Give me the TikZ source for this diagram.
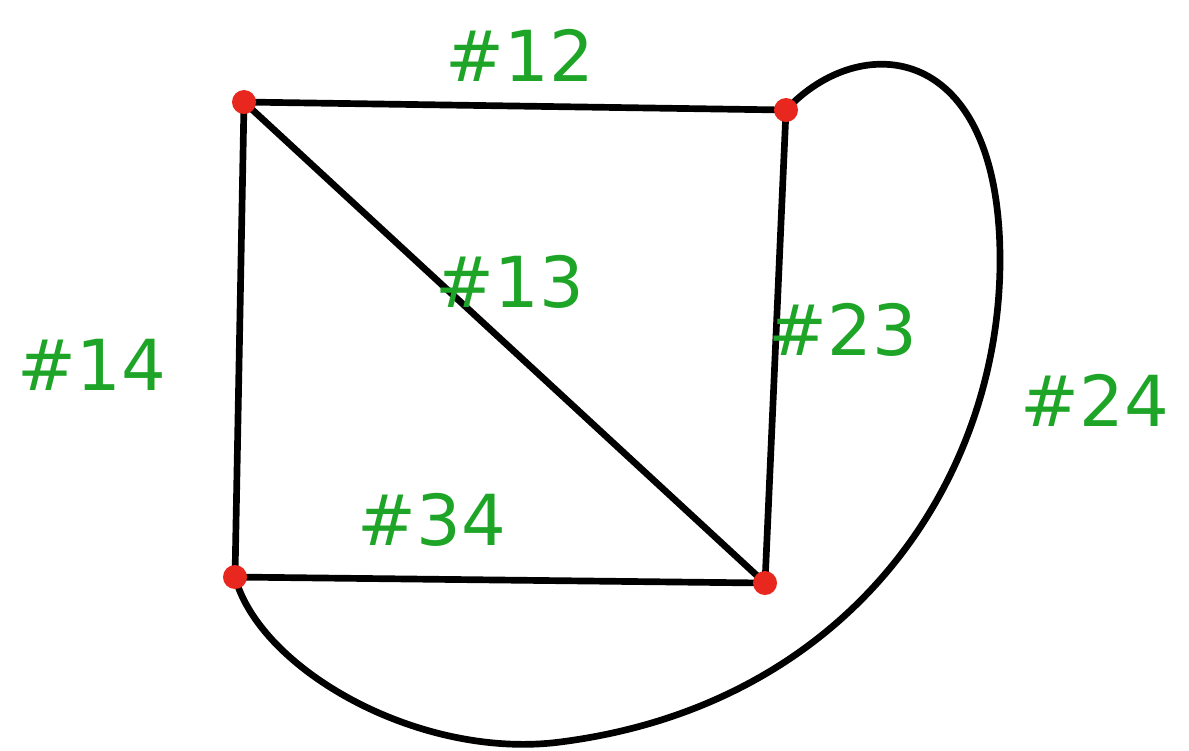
\documentclass[tikz,border=0pt]{standalone}
\usepackage{fontspec}
\setmainfont{DejaVu Sans}
\definecolor{lblgreen}{RGB}{30,165,40}
\definecolor{dotred}{RGB}{232,40,30}
\begin{document}
\begin{tikzpicture}[x=0.01cm,y=-0.01cm,
  edge/.style={line width=1.9pt,line cap=round,line join=round,black},
  vdot/.style={circle,fill=dotred,inner sep=0pt,minimum size=0.24cm},
  lbl/.style={text=lblgreen,font=\fontsize{20}{24}\selectfont}]
\useasboundingbox (0,0) rectangle (1189,750);
\coordinate (v1) at (244,102);
\coordinate (v2) at (786,110);
\coordinate (v3) at (765,583);
\coordinate (v4) at (235,577);
\coordinate (r1) at (1000,260);
\coordinate (b1) at (560,742);
\draw[edge] (v2) -- (v1) -- (v4) -- (v3) -- (v2);
\draw[edge] (v1) -- (v3);
\draw[edge] (v2) .. controls (860,30) and (1000,40) .. (r1)
  .. controls (1000,480) and (850,705) .. (b1)
  .. controls (420,760) and (260,670) .. (v4);
\node[vdot] (d1) at (v1) {};
\node[vdot] (d2) at (v2) {};
\node[vdot] (d3) at (v3) {};
\node[vdot] (d4) at (v4) {};
\node[lbl] (l12) at (520,55) {\#12};
\node[lbl] (l13) at (510,282) {\#13};
\node[lbl] (l14) at (92,365) {\#14};
\node[lbl] (l23) at (843,330) {\#23};
\node[lbl] (l34) at (432,520) {\#34};
\node[lbl] (l24) at (1095,400) {\#24};
\end{tikzpicture}
\end{document}
